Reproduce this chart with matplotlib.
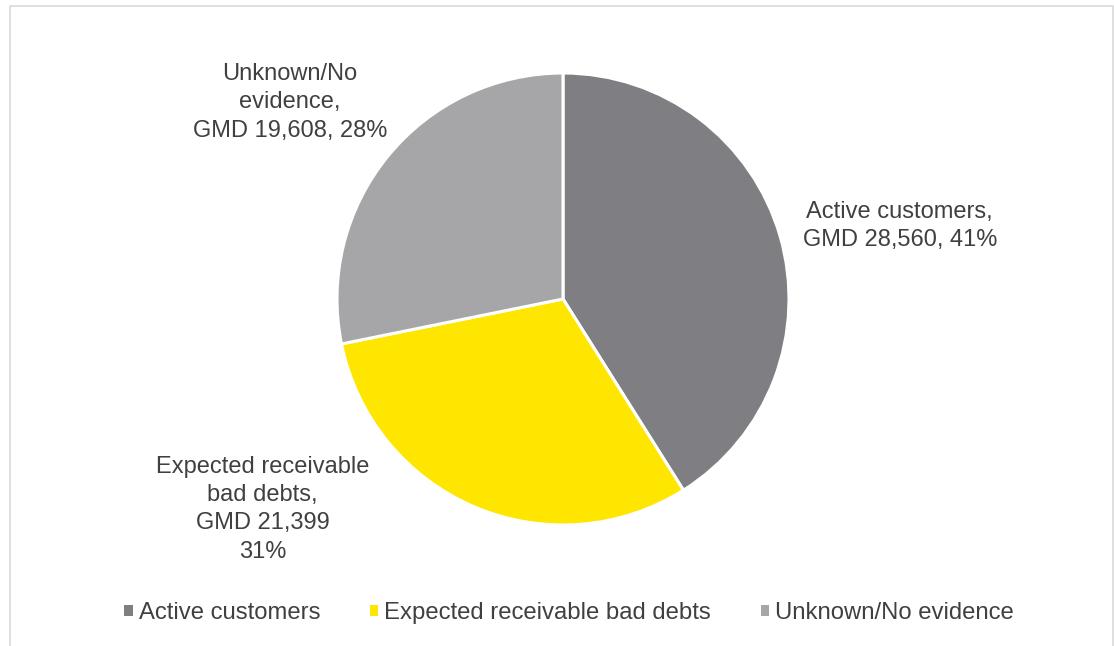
import matplotlib
matplotlib.use("Agg")
import matplotlib.pyplot as plt
from matplotlib.patches import Patch, Rectangle

plt.rcParams["font.family"] = ["Liberation Sans", "DejaVu Sans"]

# Receivables breakdown (GMD)
categories = ["Active customers", "Expected receivable bad debts", "Unknown/No evidence"]
amounts = [28560, 21399, 19608]
colors = ["#7F7E82", "#FFE600", "#A6A6A8"]

TEXT = "#404040"
W, H = 1114, 646

fig = plt.figure(figsize=(W / 100, H / 100), dpi=100)

# light frame around the chart area
fig.patches.append(Rectangle((10 / W, -0.01), (1113 - 10) / W, (646 - 6) / H + 0.01,
                             transform=fig.transFigure, fill=False,
                             edgecolor="#D9D9D9", linewidth=1.2))

cx, cy, r = 563, 299, 226
ax = fig.add_axes([(cx - r) / W, (H - cy - r) / H, 2 * r / W, 2 * r / H])
wedges, _ = ax.pie(amounts, colors=colors, startangle=90, counterclock=False,
                   wedgeprops=dict(edgecolor="white", linewidth=2.2))
ax.set_xlim(-1, 1)
ax.set_ylim(-1, 1)
ax.set_aspect("equal")

total = sum(amounts)
pcts = [round(a / total * 100) for a in amounts]

labels = [
    f"Active customers,\nGMD {amounts[0]:,}, {pcts[0]}%",
    f"Expected receivable\nbad debts,\nGMD {amounts[1]:,}\n{pcts[1]}%",
    f"Unknown/No\nevidence,\nGMD {amounts[2]:,}, {pcts[2]}%",
]
label_pos = [(1.49, 0.323), (-1.33, -0.93), (-1.208, 0.87)]
for txt, (x, y) in zip(labels, label_pos):
    ax.text(x, y, txt, ha="center", va="center", fontsize=17, color=TEXT,
            linespacing=1.37, clip_on=False)

handles = [Patch(facecolor=c, edgecolor="none", label=n) for c, n in zip(colors, categories)]
leg = fig.legend(handles=handles, loc="center", bbox_to_anchor=(0.511, 1 - 613 / H),
                 ncol=3, frameon=False, fontsize=17.2, handlelength=0.34,
                 handleheight=0.34, handletextpad=0.25, columnspacing=2.1)
for t in leg.get_texts():
    t.set_color(TEXT)

fig.savefig("out.png", dpi=100)
